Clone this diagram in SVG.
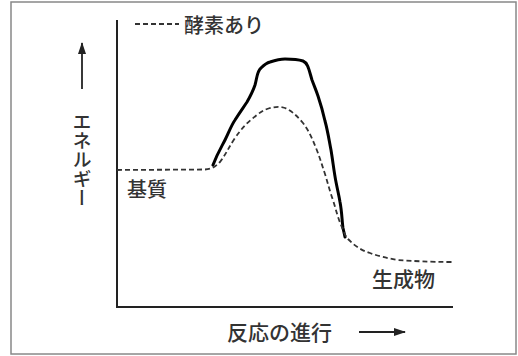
<svg xmlns="http://www.w3.org/2000/svg" width="518" height="356" viewBox="0 0 518 356">
<style>
.t{font-family:"Noto Sans CJK JP","Noto Sans",sans-serif;fill:#333;font-size:20px;font-weight:500}
.ax{stroke:#222;stroke-width:2;fill:none}
.dash{stroke:#333;stroke-width:1.8;fill:none;stroke-dasharray:5 3}
.solid{stroke:#000;stroke-width:3;fill:none;stroke-linejoin:round;stroke-linecap:round}
.arr{stroke:#222;stroke-width:1.8;fill:none}
</style>
<defs>
<marker id="ah" viewBox="0 0 12 8" refX="11" refY="4" markerWidth="12" markerHeight="8" markerUnits="userSpaceOnUse" orient="auto">
<path d="M0,0 L12,4 L0,8 z" fill="#222"/>
</marker>
</defs>
<rect x="11" y="2" width="505" height="352" fill="#fff" stroke="#888" stroke-width="1.5"/>
<g id="axes">
<path class="ax" d="M117,20 L117,307 L453,307"/>
</g>
<g id="legend">
<line class="dash" x1="135" y1="24" x2="179" y2="24"/>
<text class="t" x="184" y="33">酵素あり</text>
</g>
<g id="ylabel">
<line class="arr" x1="82" y1="89" x2="82" y2="43" marker-end="url(#ah)"/>
<text class="t" x="82" y="112" style="writing-mode:vertical-rl;font-size:19px">エネルギー</text>
</g>
<g id="xlabel">
<text class="t" x="227" y="340" style="font-size:21px">反応の進行</text>
<line class="arr" x1="359" y1="332" x2="405" y2="332" marker-end="url(#ah)"/>
</g>
<g id="connectors">
<path class="solid" d="M213,165 C218,152 222,146 225,140 C229,132 231,126 235,120 C240,112 243,108 247,102 C251,95 253,91 255,85 C257,78 257,71 261,68 C264,65 266,63 270,62 C276,60 280,59 285,59 C292,59 297,59 303,61 C308,63 309,70 312,80 C315,88 316,90 318,96 C321,105 323,112 325,121 C328,132 329,140 331,150 C333,162 334,172 336,182 C338,192 339,196 340,202 C342,212 342,222 343,228 L345,237"/>
<path class="dash" d="M117,170 L205,169.5 C212,169 215,167 220,162 C226,154 229,147 235,138 C242,128 246,124 252,119 C259,113 263,110 270,108 C275,107 279,106 285,108 C292,111 297,116 303,123 C309,131 312,138 316,148 C320,158 322,165 325,174 C328,184 330,192 333,200 C336,210 338,218 341,225 C344,232 345,236 348,239 C354,245 360,250 370,253 C378,256 386,258 398,260 C412,261 430,262 452,262"/>
</g>
<g id="substrate"><text class="t" x="127" y="197">基質</text></g>
<g id="product"><text class="t" x="372" y="287" style="font-size:21px">生成物</text></g>
</svg>
